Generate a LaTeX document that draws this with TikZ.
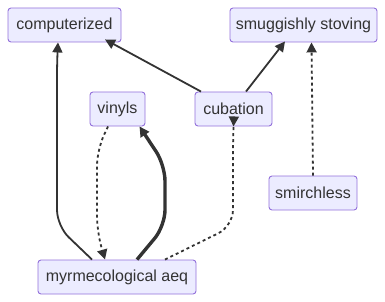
\documentclass[tikz,border=0pt]{standalone}
\usepackage{fontspec}
\setmainfont{Liberation Sans}
\usetikzlibrary{arrows.meta}
\definecolor{nodefill}{HTML}{ECECFF}
\definecolor{nodeline}{HTML}{9370DB}
\definecolor{ink}{HTML}{333333}
\tikzset{
  box/.style={draw=nodeline, fill=nodefill, rounded corners=3pt, line width=0.9pt,
    minimum height=34pt, inner sep=0pt, text=ink, font=\fontsize{16pt}{19pt}\selectfont},
  edge/.style={draw=ink, line width=1.8pt, rounded corners=16pt,
    -{Triangle[length=10pt,width=10pt]}},
  thickedge/.style={edge, line width=3.4pt},
  dotedge/.style={edge, dash pattern=on 3pt off 3pt}
}
\begin{document}
\begin{tikzpicture}[x=1pt,y=-1pt]
\useasboundingbox (0,0) rectangle (385,302);
\node[box, minimum width=113pt] (comp) at (64.5,25) {computerized};
\node[box, minimum width=147pt] (smug) at (303.5,25) {smuggishly stoving};
\node[box, minimum width=55pt] (vin) at (117.5,109) {vinyls};
\node[box, minimum width=77pt] (cub) at (233.5,109) {cubation};
\node[box, minimum width=88pt] (smir) at (313,193) {smirchless};
\node[box, minimum width=158pt] (myr) at (117,277) {myrmecological aeq};

% solid edges
\draw[edge] ([xshift=-25pt]myr.north) -- (57,226) -- (57,60) -- ([xshift=-6.5pt]comp.south);
\draw[edge, rounded corners=0pt] ([xshift=-32.5pt]cub.north) -- ([xshift=40.5pt,yshift=3pt]comp.south);
\draw[edge, rounded corners=0pt] ([xshift=12.5pt]cub.north) -- ([xshift=-18.5pt,yshift=1pt]smug.south);
\draw[thickedge] ([xshift=20pt]myr.north) -- (165,226) -- (165,165) -- ([xshift=22pt]vin.south);

% dotted edges
\draw[dotedge] ([xshift=-9.5pt]vin.south) -- (97,150) -- (97,232) -- ([xshift=-12pt]myr.north);
\draw[dotedge] ([xshift=48pt]myr.north) -- (233,226) -- (233,140) -- (cub.south);
\draw[dotedge, rounded corners=0pt] (smir.north) -- ([xshift=8pt]smug.south);
\end{tikzpicture}
\end{document}
